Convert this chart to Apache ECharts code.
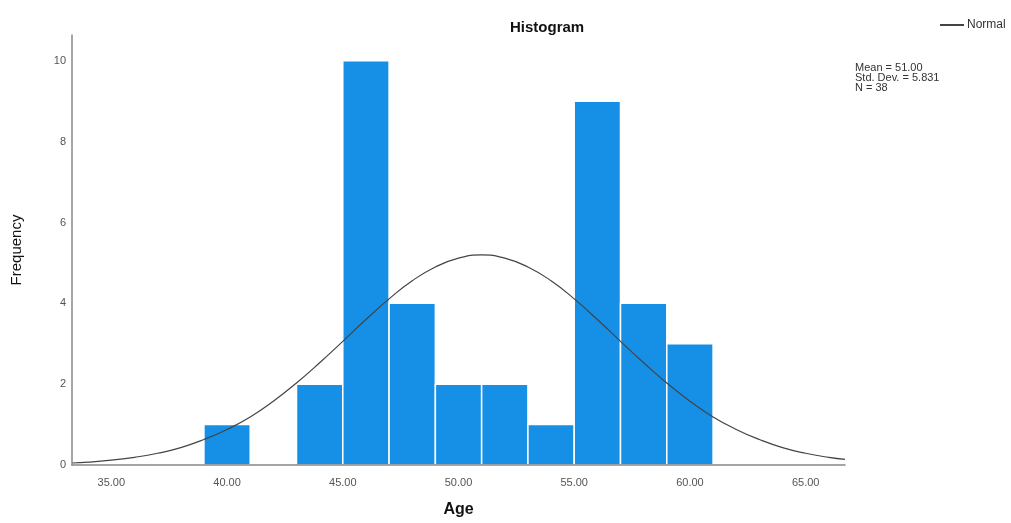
<!DOCTYPE html>
<html>
<head>
<meta charset="utf-8">
<script src="https://cdn.jsdelivr.net/npm/echarts@6/dist/echarts.min.js"></script>
<style>
  html, body { margin: 0; padding: 0; background: #fff; }
  #chart { width: 1011px; height: 523px; }
</style>
</head>
<body>
<div id="chart"></div>
<script>
  // bins of width 2 (start, end) and their counts
  var binStart = [39, 41, 43, 45, 47, 49, 51, 53, 55, 57, 59];
  var binEnd   = [41, 43, 45, 47, 49, 51, 53, 55, 57, 59, 61];
  var counts   = [1, 0, 2, 10, 4, 2, 2, 1, 9, 4, 3];

  // normal curve
  var curveX = [33.3, 34, 35, 36, 37, 38, 39, 40, 41, 42, 43, 44, 45, 46, 47, 48, 49, 50, 51,
                52, 53, 54, 55, 56, 57, 58, 59, 60, 61, 62, 63, 64, 65, 66, 66.7];
  var curveY = [0.05, 0.07, 0.12, 0.19, 0.29, 0.43, 0.63, 0.88, 1.19, 1.58, 2.03, 2.53, 3.06, 3.60, 4.11, 4.56, 4.90, 5.12, 5.20,
                5.12, 4.90, 4.56, 4.11, 3.60, 3.06, 2.53, 2.03, 1.58, 1.19, 0.88, 0.63, 0.43, 0.29, 0.19, 0.14];

  var xTicks = [35, 40, 45, 50, 55, 60, 65];
  var yTicks = [0, 2, 4, 6, 8, 10];

  var chart = echarts.init(document.getElementById('chart'))

  var binData = binStart.map(function (s, i) { return [s, binEnd[i], counts[i]]; });
  var curveData = curveX.map(function (x, i) { return [x, curveY[i]]; });

  var option = {
    animation: false,
    textStyle: { fontFamily: 'Liberation Sans, Arial, sans-serif' },
    title: [
      {
        text: 'Histogram',
        left: 505,
        top: 15,
        textStyle: { fontSize: 15, fontWeight: 'bold', color: '#111' }
      },
      {
        text: 'Mean = 51.00\nStd. Dev. = 5.831\nN = 38',
        left: 850,
        top: 58,
        textStyle: { fontSize: 11, fontWeight: 'normal', color: '#333', lineHeight: 10 }
      }
    ],
    legend: {
      left: 935,
      top: 14,
      itemWidth: 24,
      itemHeight: 2,
      itemGap: 4,
      textStyle: { fontSize: 12, color: '#333', padding: [0, 0, 0, -2] },
      data: [{ name: 'Normal', icon: 'rect' }]
    },
    grid: {
      left: 72,
      right: 166,
      top: 35,
      bottom: 56
    },
    xAxis: {
      type: 'value',
      min: 33.3,
      max: 66.7,
      z: 5,
      name: 'Age',
      nameLocation: 'middle',
      nameGap: 37,
      nameTextStyle: { fontSize: 16, fontWeight: 'bold', color: '#111' },
      axisLine: { show: true, lineStyle: { color: '#888', width: 1.5 } },
      axisTick: { show: false },
      splitLine: { show: false },
      axisLabel: {
        customValues: xTicks,
        formatter: function (v) { return v.toFixed(2); },
        fontSize: 11,
        color: '#555',
        margin: 12
      }
    },
    yAxis: {
      type: 'value',
      min: 0,
      max: 10.64,
      z: 5,
      name: 'Frequency',
      nameLocation: 'middle',
      nameGap: 48,
      nameTextStyle: { fontSize: 15, color: '#111' },
      axisLine: { show: true, lineStyle: { color: '#888', width: 1.5 } },
      axisTick: { show: false },
      splitLine: { show: false },
      axisLabel: {
        customValues: yTicks,
        fontSize: 11,
        color: '#555',
        margin: 6
      }
    },
    series: [
      {
        name: 'bins',
        type: 'custom',
        data: binData,
        encode: { x: [0, 1], y: 2 },
        renderItem: function (params, api) {
          var top = api.coord([api.value(0), api.value(2)]);
          var bottom = api.coord([api.value(1), 0]);
          return {
            type: 'rect',
            shape: {
              x: top[0],
              y: top[1],
              width: bottom[0] - top[0],
              height: bottom[1] - top[1]
            },
            style: {
              fill: '#168fe6',
              stroke: '#ffffff',
              lineWidth: 1.5
            }
          };
        },
        z: 2
      },
      {
        name: 'Normal',
        type: 'line',
        data: curveData,
        smooth: true,
        showSymbol: false,
        lineStyle: { color: '#444', width: 1.2 },
        itemStyle: { color: '#444' },
        z: 3
      }
    ]
  }
  option && chart.setOption(option);
</script>
</body>
</html>
